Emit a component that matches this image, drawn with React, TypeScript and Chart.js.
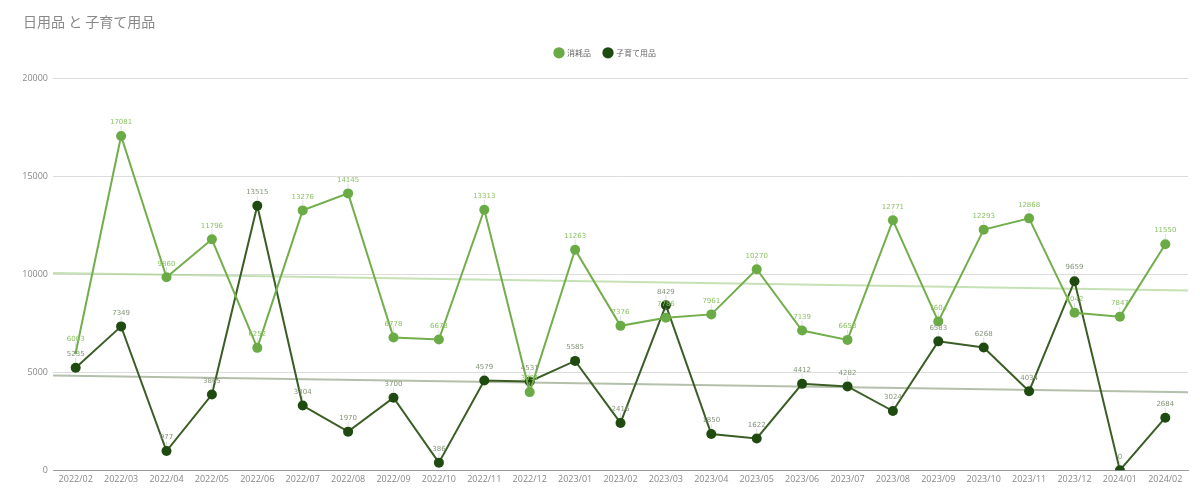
import { useEffect, useRef } from "react"
import { Chart, registerables } from "chart.js"

Chart.register(...registerables)

const months = [
  "2022/02", "2022/03", "2022/04", "2022/05", "2022/06", "2022/07", "2022/08",
  "2022/09", "2022/10", "2022/11", "2022/12", "2023/01", "2023/02", "2023/03",
  "2023/04", "2023/05", "2023/06", "2023/07", "2023/08", "2023/09", "2023/10",
  "2023/11", "2023/12", "2024/01", "2024/02",
]

const consumables = [
  6003, 17081, 9860, 11796, 6252, 13276, 14145, 6778, 6678, 13313, 3991, 11263,
  7376, 7786, 7961, 10270, 7139, 6658, 12771, 7604, 12293, 12868, 8042, 7847, 11550,
]

const childcare = [
  5235, 7349, 977, 3865, 13515, 3304, 1970, 3700, 386, 4579, 4531, 5585, 2416,
  8429, 1850, 1622, 4412, 4282, 3024, 6583, 6268, 4034, 9659, 0, 2684,
]

const yTicks = [0, 5000, 10000, 15000, 20000]

const labelColors = ["#8cc265", "#849479"]
const trendColors = ["rgba(150, 200, 120, 0.55)", "rgba(130, 150, 115, 0.6)"]

// least squares fit over the point index
const fitLine = (values: number[]) => {
  const n = values.length
  const mx = (n - 1) / 2
  const my = values.reduce((a, b) => a + b, 0) / n
  let num = 0
  let den = 0
  values.forEach((v, i) => {
    num += (i - mx) * (v - my)
    den += (i - mx) * (i - mx)
  })
  const slope = num / den
  return (x: number) => my + slope * (x - mx)
}

// extra room under the legend
const legendGap = {
  id: "legendGap",
  beforeInit(chart: any) {
    const fit = chart.legend.fit
    chart.legend.fit = function () {
      fit.call(this)
      this.height += 12
    }
  },
}

const trendPlugin = {
  id: "trend",
  beforeDatasetsDraw(chart: any) {
    const { ctx, chartArea, scales } = chart
    const last = months.length - 1
    chart.data.datasets.forEach((ds: any, i: number) => {
      const f = fitLine(ds.data)
      const x0 = scales.x.getPixelForValue(-0.5)
      const x1 = scales.x.getPixelForValue(last + 0.5)
      ctx.save()
      ctx.beginPath()
      ctx.rect(chartArea.left, chartArea.top, chartArea.width, chartArea.height)
      ctx.clip()
      ctx.strokeStyle = trendColors[i]
      ctx.lineWidth = 2
      ctx.beginPath()
      ctx.moveTo(x0, scales.y.getPixelForValue(f(-0.5)))
      ctx.lineTo(x1, scales.y.getPixelForValue(f(last + 0.5)))
      ctx.stroke()
      ctx.restore()
    })
  },
}

const valueLabelPlugin = {
  id: "valueLabels",
  afterDatasetsDraw(chart: any) {
    const { ctx } = chart
    ctx.save()
    ctx.font = "7px 'DejaVu Sans'"
    ctx.textAlign = "center"
    ctx.textBaseline = "bottom"
    chart.data.datasets.forEach((ds: any, i: number) => {
      const meta = chart.getDatasetMeta(i)
      meta.data.forEach((pt: any, j: number) => {
        ctx.strokeStyle = "rgba(200, 200, 200, 0.6)"
        ctx.lineWidth = 1
        ctx.beginPath()
        ctx.moveTo(pt.x, pt.y - 5)
        ctx.lineTo(pt.x, pt.y - 10)
        ctx.stroke()
        ctx.fillStyle = labelColors[i]
        ctx.fillText(String(ds.data[j]), pt.x, pt.y - 10)
      })
    })
    ctx.restore()
  },
}

export default function App() {
  const canvasRef = useRef<HTMLCanvasElement>(null)

  useEffect(() => {
    document.body.style.margin = "0"
    if (!canvasRef.current) return

    const chart = new Chart(canvasRef.current, {
      type: "line",
      data: {
        labels: months,
        datasets: [
          {
            label: "消耗品",
            data: consumables,
            borderColor: "#72ae4c",
            backgroundColor: "#6aab46",
            borderWidth: 2,
            pointRadius: consumables.map((_, i) => (i === 0 ? 1.5 : 5)),
            pointBorderWidth: 0,
            tension: 0,
          },
          {
            label: "子育て用品",
            data: childcare,
            borderColor: "#3a5e25",
            backgroundColor: "#1f4a10",
            borderWidth: 2,
            pointRadius: 5,
            pointBorderWidth: 0,
            tension: 0,
          },
        ],
      },
      options: {
        responsive: true,
        maintainAspectRatio: false,
        animation: false,
        layout: {
          padding: { left: 23, right: 12, top: 4, bottom: 15 },
        },
        plugins: {
          title: {
            display: true,
            text: "日用品 と 子育て用品",
            align: "start",
            color: "#888",
            font: { family: "'Noto Sans CJK JP'", size: 14, weight: "normal" },
            padding: { top: 9, bottom: 6 },
          },
          legend: {
            display: true,
            labels: {
              usePointStyle: true,
              pointStyle: "circle",
              boxWidth: 8,
              boxHeight: 8,
              color: "#666",
              font: { family: "'Noto Sans CJK JP'", size: 8 },
              padding: 13,
            },
          },
          tooltip: { enabled: false },
        },
        scales: {
          x: {
            offset: true,
            grid: { display: false, drawTicks: false },
            border: { color: "#999", width: 1 },
            ticks: {
              color: "#888",
              padding: 4,
              font: { family: "'Open Sans'", size: 9 },
              maxRotation: 0,
              autoSkip: false,
            },
          },
          y: {
            min: 0,
            max: 20000,
            afterBuildTicks: (axis: any) => {
              axis.ticks = yTicks.map((v) => ({ value: v }))
            },
            afterFit: (axis: any) => {
              axis.width = 30
            },
            grid: { color: "#dcdcdc", drawTicks: false },
            border: { display: false },
            ticks: {
              color: "#888",
              padding: 5,
              font: { family: "'Open Sans'", size: 9 },
              callback: (value: any) => String(value),
            },
          },
        },
      },
      plugins: [legendGap, trendPlugin, valueLabelPlugin],
    })

    return () => {
      chart.destroy()
    }
  }, [])

  return (
    <div style={{ width: 1200, height: 504, position: "relative", background: "#fff" }}>
      <canvas ref={canvasRef} />
    </div>
  )
}
